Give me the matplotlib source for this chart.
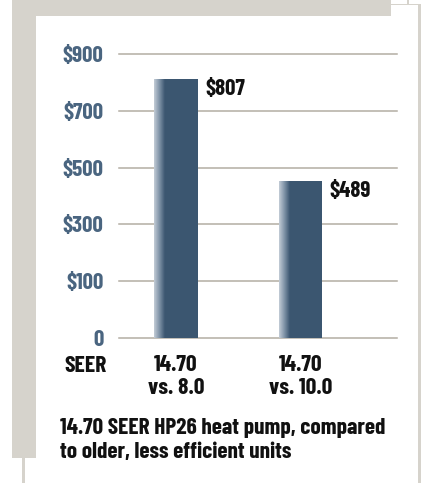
import matplotlib
matplotlib.use('Agg')
import matplotlib.pyplot as plt
import numpy as np
from matplotlib.patches import Rectangle
from matplotlib.colors import LinearSegmentedColormap

# Datos
categorias = ['14.70\nvs. 8.0', '14.70\nvs. 10.0']
ahorros = [807, 489]
etiquetas_valor = ['$807', '$489']
# lineas de la grilla (espaciado uniforme en la figura original)
grilla = [0, 177, 354, 531, 708, 885]
etiquetas_y = ['0', '$100', '$300', '$500', '$700', '$900']

plt.rcParams['font.family'] = ['Barlow Condensed', 'DejaVu Sans']
plt.rcParams['font.weight'] = 'bold'

W, H = 425, 483
fig = plt.figure(figsize=(W / 100, H / 100), dpi=100)
fig.patch.set_facecolor('white')

gris = '#d6d3cc'

def px_rect(x0, y0, x1, y1, color):
    # rectangulo en pixeles (origen arriba a la izquierda)
    fig.patches.append(Rectangle((x0 / W, 1 - y1 / H), (x1 - x0) / W, (y1 - y0) / H,
                                 transform=fig.transFigure, facecolor=color,
                                 edgecolor='none', zorder=0))

# Marco gris
px_rect(12, 0, 391, 16, gris)
px_rect(12, 0, 36, 458, gris)
px_rect(22, 458, 24.5, 483, gris)
px_rect(391, 3.5, 419, 5, gris)
px_rect(407, 0, 409, 4, gris)
px_rect(418, 3.5, 420.5, 483, gris)

# Ejes
ax = fig.add_axes([119 / W, (H - 338) / H, 278 / W, 284 / H])
ax.set_facecolor('none')
x = np.arange(len(categorias))
ancho = 0.353

for g in grilla:
    ax.axhline(g, color='#b3ada3', linewidth=1.1, zorder=1, clip_on=False)

azul = '#3b5670'
barras = ax.bar(x, ahorros, width=ancho, color=azul, zorder=2)

# Degradado en el borde izquierdo de cada barra
cmap = LinearSegmentedColormap.from_list('borde', ['#c3ccd6', '#7f93a7', azul])
grad = np.linspace(0, 1, 64).reshape(1, -1)
for b in barras:
    x0 = b.get_x()
    ax.imshow(grad, cmap=cmap, aspect='auto', zorder=3,
              extent=(x0, x0 + ancho * 0.25, 0, b.get_height()))
ax.set_xlim(-0.458, 1.775)
ax.set_ylim(0, grilla[-1])

for b, txt in zip(barras, etiquetas_valor):
    ax.annotate(txt, xy=(b.get_x() + b.get_width(), b.get_height()),
                xytext=(5, 0), textcoords='offset points', ha='left', va='top',
                fontsize=16.5, fontweight='bold', color='#111111')

ax.set_yticks(grilla, etiquetas_y)
ax.set_xticks(x, categorias)
ax.tick_params(axis='y', length=0, pad=11, labelsize=16.5, labelcolor='#4a6580')
ax.tick_params(axis='x', length=0, pad=12, labelsize=17, labelcolor='#111111')
for lbl in ax.get_xticklabels():
    lbl.set_linespacing(1.22)
for s in ax.spines.values():
    s.set_visible(False)

fig.text(64 / W, 1 - 356 / H, 'SEER', ha='left', va='top', fontsize=17,
         fontweight='bold', color='#111111')

fig.text(60 / W, 1 - 418 / H,
         '14.70 SEER HP26 heat pump, compared\nto older, less efficient units',
         ha='left', va='top', fontsize=16.8, fontweight='bold', color='#111111',
         linespacing=1.25)

fig.savefig('out.png', dpi=100)
